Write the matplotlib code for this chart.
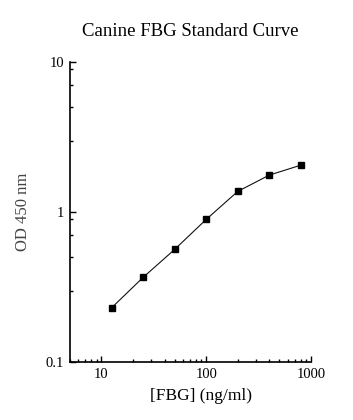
import matplotlib.pyplot as plt
from matplotlib.ticker import LogLocator, NullFormatter, FixedLocator, FixedFormatter

plt.rcParams['font.family'] = ['Liberation Serif', 'DejaVu Serif']

# standard curve data
conc = [12.5, 25, 50, 100, 200, 400, 800]
od = [0.230, 0.367, 0.564, 0.894, 1.374, 1.765, 2.056]

x_ticks = [10, 100, 1000]
x_labels = ["10", "100", "1000"]
y_ticks = [0.1, 1, 10]
y_labels = ["0.1", "1", "10"]

fig = plt.figure(figsize=(3.53, 4.2), dpi=100)
ax = fig.add_axes([0.198, 0.138, 0.683, 0.714])

ax.plot(conc, od, c="#111111", lw=0.8, marker="s", ms=4, mfc="black", mec="black")

ax.set_xscale("log")
ax.set_yscale("log")
ax.set_xlim(5, 1000)
ax.set_ylim(0.1, 10)

ax.xaxis.set_major_locator(FixedLocator(x_ticks))
ax.xaxis.set_major_formatter(FixedFormatter(x_labels))
ax.xaxis.set_minor_locator(LogLocator(base=10, subs=range(2, 10)))
ax.xaxis.set_minor_formatter(NullFormatter())
ax.yaxis.set_major_locator(FixedLocator(y_ticks))
ax.yaxis.set_major_formatter(FixedFormatter(y_labels))
ax.yaxis.set_minor_locator(LogLocator(base=10, subs=[3, 5, 7, 9]))
ax.yaxis.set_minor_formatter(NullFormatter())

ax.tick_params(which="major", direction="in", length=4, width=1, labelsize=10.5, pad=4)
ax.tick_params(which="minor", direction="in", length=2.2, width=1)

for s in ["top", "right"]:
    ax.spines[s].set_visible(False)
for s in ["left", "bottom"]:
    ax.spines[s].set_linewidth(1.2)

ax.set_xlabel("[FBG] (ng/ml)", fontsize=12.5, labelpad=6)
ax.xaxis.set_label_coords(0.545, -0.085)
ax.set_ylabel("OD 450 nm", fontsize=12, color="#444444")
ax.yaxis.set_label_coords(-0.16, 0.5)
fig.text(0.538, 0.925, "Canine FBG Standard Curve", ha="center", va="center", fontsize=13.5)

fig.savefig("out.png", dpi=100)
